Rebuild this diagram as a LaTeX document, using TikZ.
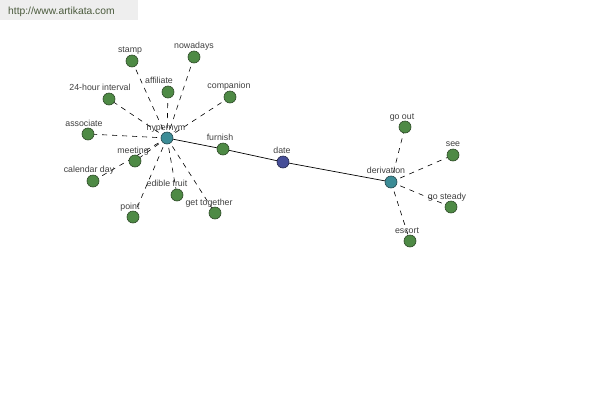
\documentclass[tikz,border=0pt]{standalone}
\usepackage{fontspec}
\setmainfont{Liberation Sans}
\definecolor{leaf}{HTML}{4E8A45}
\definecolor{leafd}{HTML}{2E4A28}
\definecolor{hub}{HTML}{3C8C96}
\definecolor{hubd}{HTML}{24464C}
\definecolor{core}{HTML}{464E98}
\definecolor{cored}{HTML}{24284C}
\definecolor{lbl}{HTML}{404040}
\definecolor{hdr}{HTML}{EEEEEE}
\definecolor{hdrtxt}{HTML}{4A5A3C}
\begin{document}
\begin{tikzpicture}[x=1pt,y=-1pt,
  leafn/.style={circle,draw=leafd,fill=leaf,inner sep=0pt,minimum size=12pt,line width=0.6pt},
  hubn/.style={circle,draw=hubd,fill=hub,inner sep=0pt,minimum size=12pt,line width=0.6pt},
  coren/.style={circle,draw=cored,fill=core,inner sep=0pt,minimum size=12pt,line width=0.6pt},
  lab/.style={text=lbl,font=\fontsize{8.8}{9}\selectfont,inner sep=0pt,anchor=base},
  dedge/.style={draw=black,dash pattern=on 5pt off 5pt,line width=0.6pt},
  sedge/.style={draw=black,line width=0.7pt}]
\useasboundingbox (0,0) rectangle (600,400);
\fill[white] (0,0) rectangle (600,400);
\fill[hdr] (0,0) rectangle (138,20);
\node[text=hdrtxt,font=\fontsize{10.3}{11}\selectfont,anchor=base west,inner sep=0pt] (url) at (8,14.5) {http://www.artikata.com};

% node coordinates
\coordinate (hyp) at (167,138);
\coordinate (date) at (283,162);
\coordinate (der) at (391,182);
\coordinate (furnish) at (223,149);
\coordinate (stamp) at (132,61);
\coordinate (nowadays) at (194,57);
\coordinate (affiliate) at (168,92);
\coordinate (companion) at (230,97);
\coordinate (hour) at (109,99);
\coordinate (associate) at (88,134);
\coordinate (meeting) at (135,161);
\coordinate (calday) at (93,181);
\coordinate (edible) at (177,195);
\coordinate (gettog) at (215,213);
\coordinate (point) at (133,217);
\coordinate (goout) at (405,127);
\coordinate (see) at (453,155);
\coordinate (steady) at (451,207);
\coordinate (escort) at (410,241);

% edges
\path[dedge] (hyp) -- (stamp);
\path[dedge] (hyp) -- (nowadays);
\path[dedge] (hyp) -- (affiliate);
\path[dedge] (hyp) -- (companion);
\path[dedge] (hyp) -- (hour);
\path[dedge] (hyp) -- (associate);
\path[dedge] (hyp) -- (meeting);
\path[dedge] (hyp) -- (calday);
\path[dedge] (hyp) -- (edible);
\path[dedge] (hyp) -- (gettog);
\path[dedge] (hyp) -- (point);
\path[sedge] (hyp) -- (furnish);
\path[sedge] (furnish) -- (date);
\path[sedge] (date) -- (der);
\path[dedge] (der) -- (goout);
\path[dedge] (der) -- (see);
\path[dedge] (der) -- (steady);
\path[dedge] (der) -- (escort);

% nodes on top
\foreach \n/\s in {hyp/hubn,der/hubn,date/coren,furnish/leafn,stamp/leafn,nowadays/leafn,affiliate/leafn,companion/leafn,hour/leafn,associate/leafn,meeting/leafn,calday/leafn,edible/leafn,gettog/leafn,point/leafn,goout/leafn,see/leafn,steady/leafn,escort/leafn}
  \node[\s] (n-\n) at (\n) {};

% labels
\node[lab] (l1) at (130,52) {stamp};
\node[lab] (l2) at (194,48) {nowadays};
\node[lab] (l3) at (159,83) {affiliate};
\node[lab] (l4) at (229,88) {companion};
\node[lab] (l5) at (100,90) {24-hour interval};
\node[lab] (l6) at (84,126) {associate};
\node[lab] (l7) at (166,130) {hypernym};
\node[lab] (l8) at (133,153) {meeting};
\node[lab] (l9) at (220,140) {furnish};
\node[lab] (l10) at (282,153) {date};
\node[lab] (l11) at (89,172) {calendar day};
\node[lab] (l12) at (167,186) {edible fruit};
\node[lab] (l13) at (209,205) {get together};
\node[lab] (l14) at (130,209) {point};
\node[lab] (l15) at (402,119) {go out};
\node[lab] (l16) at (453,146) {see};
\node[lab] (l17) at (386,173) {derivation};
\node[lab] (l18) at (447,199) {go steady};
\node[lab] (l19) at (407,233) {escort};
\end{tikzpicture}
\end{document}
